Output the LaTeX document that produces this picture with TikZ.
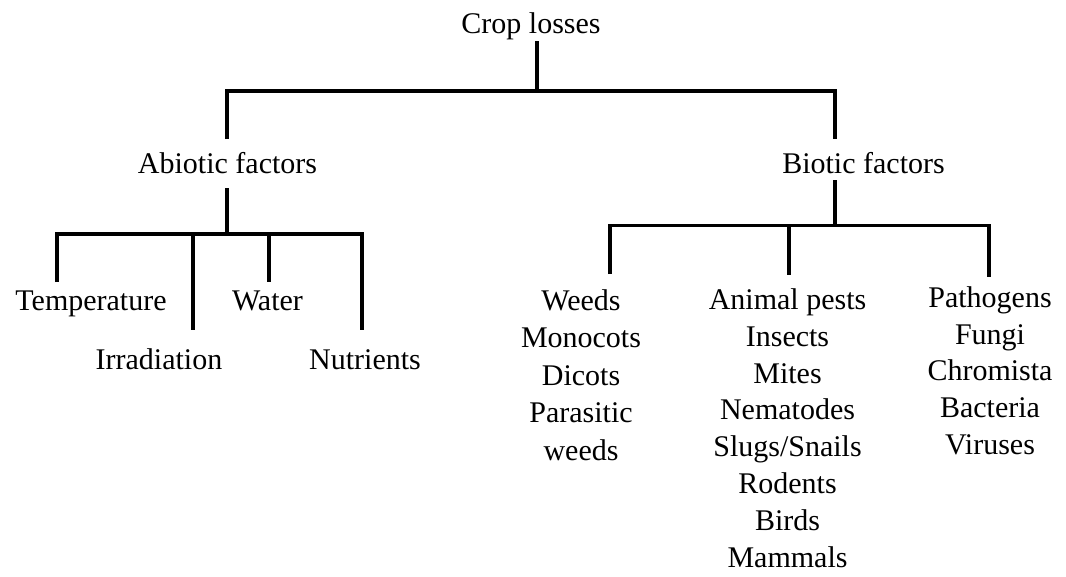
\documentclass[tikz,border=0pt]{standalone}
\usepackage{fontspec}
\setmainfont{Liberation Serif}
\begin{document}
\begin{tikzpicture}[x=0.75pt,y=-0.75pt,
  link/.style={line width=2.5pt, line cap=butt, line join=miter},
  lbl/.style={anchor=base, inner sep=0pt, font=\fontsize{22.5}{27.75}\selectfont},
  col/.style={lbl, align=center}]
\useasboundingbox (0,0) rectangle (1066,576);

% labels (multi-line columns are placed by the baseline of their last line)
\node[lbl] (crop)  at (531,33)    {Crop losses};
\node[lbl] (abio)  at (227.5,173) {Abiotic factors};
\node[lbl] (bio)   at (863.5,173) {Biotic factors};
\node[lbl] (temp)  at (91,310)    {Temperature};
\node[lbl] (water) at (267.5,310) {Water};
\node[lbl] (irr)   at (159,369)   {Irradiation};
\node[lbl] (nutr)  at (365,369)   {Nutrients};
\node[col, font=\fontsize{22.5}{28.1}\selectfont] (weeds) at (581,460)
  {Weeds\\Monocots\\Dicots\\Parasitic\\weeds};
\node[col, font=\fontsize{22.5}{27.6}\selectfont] (animal) at (787.5,567)
  {Animal pests\\Insects\\Mites\\Nematodes\\Slugs/Snails\\Rodents\\Birds\\Mammals};
\node[col, font=\fontsize{22.5}{27.4}\selectfont] (path) at (990,454)
  {Pathogens\\Fungi\\Chromista\\Bacteria\\Viruses};

% branch points and line ends
\coordinate (cropTop)  at (537,41);
\coordinate (cropBar)  at (537,91);
\coordinate (abioTop)  at (227,139);
\coordinate (bioTop)   at (835,139);
\coordinate (abioBot)  at (227,188);
\coordinate (abioBar)  at (227,234);
\coordinate (tempEnd)  at (57,282);
\coordinate (irrEnd)   at (193,330);
\coordinate (waterEnd) at (269,282);
\coordinate (nutrEnd)  at (362,330);
\coordinate (bioBot)   at (835,180);
\coordinate (bioBar)   at (835,225.5);
\coordinate (weedsEnd) at (610,274);
\coordinate (animEnd)  at (789,275);
\coordinate (pathEnd)  at (989,277);

% top level
\draw[link] (cropTop) -- (cropBar);
\draw[link] (abioTop) |- (bioTop |- cropBar) -- (bioTop);

% abiotic branch
\draw[link] (abioBot) -- (abioBar);
\draw[link] (tempEnd) |- (nutrEnd |- abioBar) -- (nutrEnd);
\draw[link] (irrEnd |- abioBar) -- (irrEnd);
\draw[link] (waterEnd |- abioBar) -- (waterEnd);

% biotic branch
\draw[link] (bioBot) -- (bioBar);
\draw[link] (weedsEnd) |- (pathEnd |- bioBar) -- (pathEnd);
\draw[link] (animEnd |- bioBar) -- (animEnd);
\end{tikzpicture}
\end{document}
